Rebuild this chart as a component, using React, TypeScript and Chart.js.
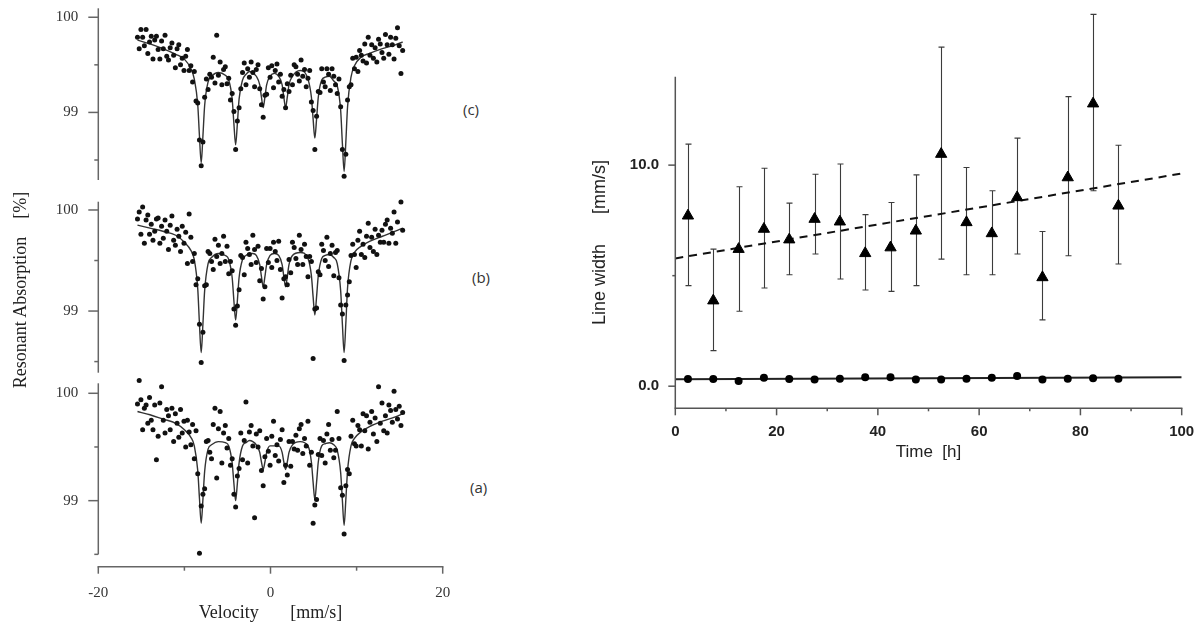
import React, { useEffect, useRef } from 'react';
import { Chart, registerables } from 'chart.js';

Chart.register(...registerables);

// ---------- Mössbauer spectra (left) ----------
const channelVelocity = [
  -15.45, -15.25, -15.05, -14.85, -14.65, -14.45, -14.25, -14.05, -13.85, -13.65,
  -13.45, -13.25, -13.05, -12.85, -12.65, -12.45, -12.25, -12.05, -11.85, -11.65,
  -11.45, -11.25, -11.05, -10.85, -10.65, -10.45, -10.25, -10.05, -9.85, -9.65,
  -9.45, -9.25, -9.05, -8.85, -8.65, -8.45, -8.25, -8.05, -7.85, -7.65,
  -7.45, -7.25, -7.05, -6.85, -6.65, -6.45, -6.25, -6.05, -5.85, -5.65,
  -5.45, -5.25, -5.05, -4.85, -4.65, -4.45, -4.25, -4.05, -3.85, -3.65,
  -3.45, -3.25, -3.05, -2.85, -2.65, -2.45, -2.25, -2.05, -1.85, -1.65,
  -1.45, -1.25, -1.05, -0.85, -0.65, -0.45, -0.25, -0.05, 0.15, 0.35,
  0.55, 0.75, 0.95, 1.15, 1.35, 1.55, 1.75, 1.95, 2.15, 2.35,
  2.55, 2.75, 2.95, 3.15, 3.35, 3.55, 3.75, 3.95, 4.15, 4.35,
  4.55, 4.75, 4.95, 5.15, 5.35, 5.55, 5.75, 5.95, 6.15, 6.35,
  6.55, 6.75, 6.95, 7.15, 7.35, 7.55, 7.75, 7.95, 8.15, 8.35,
  8.55, 8.75, 8.95, 9.15, 9.35, 9.55, 9.75, 9.95, 10.15, 10.35,
  10.55, 10.75, 10.95, 11.15, 11.35, 11.55, 11.75, 11.95, 12.15, 12.35,
  12.55, 12.75, 12.95, 13.15, 13.35, 13.55, 13.75, 13.95, 14.15, 14.35,
  14.55, 14.75, 14.95, 15.15, 15.35,
];

const absorptionC = [
  99.79, 99.67, 99.87, 99.79, 99.70, 99.87, 99.62, 99.74, 99.80, 99.56,
  99.76, 99.80, 99.66, 99.56, 99.75, 99.67, 99.81, 99.59, 99.55, 99.68,
  99.73, 99.60, 99.47, 99.67, 99.71, 99.50, 99.57, 99.44, 99.59, 99.66,
  99.44, 99.49, 99.32, 99.43, 99.12, 99.10, 98.71, 98.44, 98.69, 99.16,
  99.35, 99.24, 99.40, 99.37, 99.58, 99.31, 99.81, 99.39, 99.53, 99.29,
  99.45, 99.48, 99.30, 99.36, 99.13, 99.20, 99.01, 98.61, 98.91, 99.05,
  99.25, 99.42, 99.52, 99.29, 99.46, 99.37, 99.53, 99.42, 99.27, 99.45,
  99.50, 99.25, 99.08, 98.95, 99.18, 99.19, 99.47, 99.37, 99.49, 99.26,
  99.44, 99.51, 99.32, 99.40, 99.17, 99.24, 99.05, 99.30, 99.22, 99.39,
  99.29, 99.50, 99.48, 99.40, 99.33, 99.55, 99.38, 99.45, 99.27, 99.36,
  99.44, 99.11, 99.02, 98.61, 98.96, 99.22, 99.21, 99.46, 99.32, 99.27,
  99.46, 99.40, 99.23, 99.46, 99.38, 99.29, 99.20, 99.35, 99.06, 98.61,
  98.33, 98.56, 99.13, 99.27, 99.29, 99.57, 99.46, 99.58, 99.43, 99.65,
  99.60, 99.54, 99.72, 99.52, 99.79, 99.60, 99.71, 99.57, 99.68, 99.53,
  99.77, 99.72, 99.63, 99.57, 99.82, 99.71, 99.61, 99.79, 99.71, 99.56,
  99.78, 99.89, 99.70, 99.41, 99.65,
];

const absorptionB = [
  99.91, 99.98, 99.76, 100.03, 99.67, 99.90, 99.95, 99.76, 99.86, 99.70,
  99.79, 99.91, 99.92, 99.67, 99.84, 99.72, 99.90, 99.79, 99.61, 99.85,
  99.94, 99.70, 99.65, 99.81, 99.74, 99.59, 99.84, 99.67, 99.78, 99.47,
  99.96, 99.73, 99.49, 99.57, 99.26, 99.32, 98.87, 98.49, 98.79, 99.25,
  99.26, 99.59, 99.57, 99.49, 99.41, 99.71, 99.54, 99.65, 99.47, 99.57,
  99.74, 99.49, 99.64, 99.37, 99.49, 99.40, 99.02, 98.86, 99.05, 99.21,
  99.55, 99.53, 99.36, 99.68, 99.62, 99.56, 99.46, 99.75, 99.61, 99.48,
  99.64, 99.30, 99.42, 99.12, 99.24, 99.62, 99.48, 99.62, 99.43, 99.68,
  99.59, 99.50, 99.69, 99.41, 99.13, 99.32, 99.34, 99.26, 99.51, 99.38,
  99.68, 99.63, 99.52, 99.46, 99.75, 99.61, 99.46, 99.66, 99.54, 99.34,
  99.54, 99.49, 98.53, 99.02, 99.03, 99.39, 99.36, 99.66, 99.60, 99.50,
  99.73, 99.44, 99.57, 99.65, 99.35, 99.58, 99.60, 99.33, 99.06, 98.97,
  98.51, 99.06, 99.16, 99.29, 99.55, 99.66, 99.56, 99.43, 99.70, 99.79,
  99.56, 99.66, 99.53, 99.74, 99.87, 99.63, 99.73, 99.59, 99.81, 99.56,
  99.75, 99.68, 99.80, 99.68, 99.86, 99.90, 99.67, 99.82, 99.77, 99.98,
  99.67, 99.88, 100.14, 100.08, 99.80,
];

const absorptionA = [
  99.90, 100.12, 99.94, 99.66, 99.86, 99.89, 99.72, 99.96, 99.75, 99.66,
  99.89, 99.38, 99.60, 99.91, 100.06, 99.75, 99.63, 99.85, 99.79, 99.66,
  99.86, 99.55, 99.81, 99.72, 99.59, 99.85, 99.63, 99.74, 99.50, 99.75,
  99.64, 99.52, 99.71, 99.39, 99.65, 99.25, 98.51, 98.95, 99.06, 99.11,
  99.55, 99.56, 99.45, 99.39, 99.71, 99.86, 99.21, 99.67, 99.83, 99.35,
  99.63, 99.70, 99.49, 99.58, 99.33, 99.39, 99.06, 98.94, 99.23, 99.30,
  99.63, 99.38, 99.56, 99.92, 99.35, 99.64, 99.70, 99.51, 98.84, 99.62,
  99.50, 99.65, 99.28, 99.14, 99.41, 99.58, 99.46, 99.33, 99.60, 99.74,
  99.42, 99.52, 99.37, 99.57, 99.66, 99.17, 99.33, 99.24, 99.55, 99.32,
  99.55, 99.48, 99.61, 99.47, 99.67, 99.71, 99.44, 99.58, 99.51, 99.74,
  99.33, 99.45, 98.79, 98.96, 99.01, 99.43, 99.58, 99.42, 99.56, 99.35,
  99.62, 99.71, 99.47, 99.57, 99.40, 99.47, 99.83, 99.58, 99.12, 99.05,
  98.69, 99.14, 99.29, 99.25, 99.60, 99.75, 99.53, 99.51, 99.70, 99.66,
  99.51, 99.81, 99.65, 99.79, 99.48, 99.73, 99.83, 99.62, 99.77, 99.55,
  100.06, 99.72, 99.91, 99.65, 99.79, 99.63, 99.89, 99.84, 99.73, 100.02,
  99.85, 99.76, 99.88, 99.70, 99.82,
];

const fitVelocity = [
  -15.45, -14, -12.5, -11, -10, -9.25, -8.85, -8.45, -8.25, -8.05,
  -7.85, -7.65, -7.25, -6.85, -6.05, -5.25, -4.85, -4.45, -4.25, -4.05,
  -3.85, -3.65, -3.25, -2.85, -2.45, -2.05, -1.65, -1.25, -1.05, -0.85,
  -0.65, -0.45, -0.05, 0.45, 0.95, 1.35, 1.55, 1.75, 1.95, 2.15,
  2.55, 3.45, 4.35, 4.75, 4.95, 5.15, 5.35, 5.55, 5.95, 6.35,
  6.85, 7.35, 7.75, 8.15, 8.35, 8.55, 8.75, 8.95, 9.35, 9.75,
  10.5, 11.5, 13, 14.5, 15.35,
];

const fitC = [
  99.76, 99.72, 99.67, 99.61, 99.56, 99.46, 99.35, 99.08, 98.75, 98.47,
  98.75, 99.07, 99.32, 99.38, 99.42, 99.39, 99.34, 99.14, 98.88, 98.66,
  98.88, 99.14, 99.34, 99.40, 99.43, 99.41, 99.38, 99.29, 99.16, 99.05,
  99.16, 99.29, 99.38, 99.41, 99.38, 99.29, 99.16, 99.05, 99.16, 99.29,
  99.38, 99.44, 99.35, 99.16, 98.93, 98.73, 98.93, 99.16, 99.34, 99.37,
  99.38, 99.33, 99.28, 99.02, 98.67, 98.38, 98.69, 99.06, 99.37, 99.49,
  99.58, 99.62, 99.67, 99.71, 99.74,
];

const fitB = [
  99.85, 99.82, 99.79, 99.75, 99.68, 99.60, 99.51, 99.22, 98.87, 98.59,
  98.87, 99.20, 99.47, 99.53, 99.57, 99.55, 99.51, 99.33, 99.10, 98.91,
  99.10, 99.33, 99.51, 99.55, 99.57, 99.57, 99.55, 99.46, 99.34, 99.24,
  99.34, 99.46, 99.55, 99.57, 99.55, 99.46, 99.34, 99.24, 99.34, 99.46,
  99.55, 99.58, 99.52, 99.35, 99.14, 98.96, 99.14, 99.35, 99.52, 99.55,
  99.56, 99.53, 99.47, 99.20, 98.87, 98.59, 98.88, 99.23, 99.50, 99.58,
  99.64, 99.69, 99.74, 99.79, 99.82,
];

const fitA = [
  99.83, 99.80, 99.76, 99.72, 99.66, 99.59, 99.51, 99.28, 99.02, 98.79,
  99.01, 99.27, 99.48, 99.52, 99.55, 99.54, 99.51, 99.35, 99.16, 99.00,
  99.16, 99.35, 99.51, 99.54, 99.56, 99.55, 99.52, 99.45, 99.36, 99.29,
  99.36, 99.45, 99.51, 99.51, 99.51, 99.45, 99.36, 99.29, 99.36, 99.45,
  99.52, 99.55, 99.51, 99.36, 99.17, 99.01, 99.17, 99.36, 99.51, 99.53,
  99.54, 99.52, 99.47, 99.26, 99.00, 98.77, 99.01, 99.28, 99.51, 99.58,
  99.64, 99.69, 99.74, 99.78, 99.81,
];

const absorptionTicks = [99, 100];
const absorptionMinorTicks = [98.5, 99.5];
const velocityTicks = [-20, 0, 20];
const velocityMinorTicks = [-10, 10];

// ---------- Line width vs time (right) ----------
const timeHours = [2.5, 7.5, 12.5, 17.5, 22.5, 27.5, 32.5, 37.5, 42.5, 47.5, 52.5, 57.5, 62.5, 67.5, 72.5, 77.5, 82.5, 87.5];
const broadWidth = [7.71, 3.87, 6.20, 7.11, 6.63, 7.56, 7.44, 6.01, 6.27, 7.03, 10.50, 7.41, 6.91, 8.54, 4.92, 9.44, 12.78, 8.16];
const broadUpper = [10.95, 6.20, 9.02, 9.86, 8.28, 9.59, 10.05, 7.76, 8.31, 9.56, 15.34, 9.89, 8.84, 11.22, 7.00, 13.10, 16.82, 10.90];
const broadLower = [4.55, 1.61, 3.39, 4.44, 5.04, 5.98, 4.85, 4.35, 4.29, 4.55, 5.75, 5.04, 5.04, 5.98, 3.00, 5.90, 8.84, 5.53];
const narrowWidth = [0.32, 0.32, 0.24, 0.38, 0.32, 0.30, 0.34, 0.40, 0.40, 0.30, 0.30, 0.34, 0.38, 0.46, 0.30, 0.34, 0.36, 0.34];
const trendTime = [0, 100];
const broadTrend = [5.78, 9.62];
const narrowTrend = [0.31, 0.40];
const timeTicks = [0, 20, 40, 60, 80, 100];
const timeMinorTicks = [10, 30, 50, 70, 90];
const widthTicks = [0, 10];
const widthMinorTicks = [5];

const SERIF = '"Liberation Serif", "Times New Roman", serif';
const SANS = '"Liberation Sans", Arial, sans-serif';

type AxisSpec = {
  axis: 'x' | 'y';
  from: number;
  to: number;
  major: number[];
  minor: number[];
  majorLen: number;
  minorLen: number;
};

function makeAxesPlugin(specs: AxisSpec[], color: string, width: number) {
  return {
    id: 'drawnAxes',
    afterDatasetsDraw(chart: any) {
      const { ctx, chartArea } = chart;
      ctx.save();
      ctx.strokeStyle = color;
      ctx.lineWidth = width;
      const seg = (x1: number, y1: number, x2: number, y2: number) => {
        ctx.beginPath();
        ctx.moveTo(x1, y1);
        ctx.lineTo(x2, y2);
        ctx.stroke();
      };
      for (const s of specs) {
        if (s.axis === 'y') {
          const sc = chart.scales.y;
          const x = chartArea.left;
          seg(x, sc.getPixelForValue(s.from), x, sc.getPixelForValue(s.to));
          s.major.forEach((v) => { const p = sc.getPixelForValue(v); seg(x, p, x - s.majorLen, p); });
          s.minor.forEach((v) => { const p = sc.getPixelForValue(v); seg(x, p, x - s.minorLen, p); });
        } else {
          const sc = chart.scales.x;
          const y = chartArea.bottom;
          seg(sc.getPixelForValue(s.from) - width / 2, y, sc.getPixelForValue(s.to) + width / 2, y);
          s.major.forEach((v) => { const p = sc.getPixelForValue(v); seg(p, y, p, y + s.majorLen); });
          s.minor.forEach((v) => { const p = sc.getPixelForValue(v); seg(p, y, p, y + s.minorLen); });
        }
      }
      ctx.restore();
    },
  };
}

const errorBarPlugin = {
  id: 'errorBars',
  beforeDatasetsDraw(chart: any) {
    const { ctx } = chart;
    const xs = chart.scales.x;
    const ys = chart.scales.y;
    ctx.save();
    ctx.strokeStyle = '#3c3c3c';
    ctx.lineWidth = 1.1;
    timeHours.forEach((t, i) => {
      const x = Math.round(xs.getPixelForValue(t)) + 0.5;
      const yTop = ys.getPixelForValue(broadUpper[i]);
      const yBot = ys.getPixelForValue(broadLower[i]);
      ctx.beginPath();
      ctx.moveTo(x, yTop);
      ctx.lineTo(x, yBot);
      ctx.moveTo(x - 3, yTop);
      ctx.lineTo(x + 3, yTop);
      ctx.moveTo(x - 3, yBot);
      ctx.lineTo(x + 3, yBot);
      ctx.stroke();
    });
    ctx.restore();
  },
};

type SpectrumOpts = {
  counts: number[];
  fit: number[];
  yMin: number;
  yMax: number;
  axisTop: number;
  axisBottom: number;
  padTop: number;
  padBottom: number;
  padRight: number;
  showX: boolean;
};

function spectrumConfig(o: SpectrumOpts): any {
  const specs: AxisSpec[] = [
    { axis: 'y', from: o.axisTop, to: o.axisBottom, major: absorptionTicks, minor: absorptionMinorTicks, majorLen: 10, minorLen: 4 },
  ];
  if (o.showX) {
    specs.push({ axis: 'x', from: -20, to: 20, major: velocityTicks, minor: velocityMinorTicks, majorLen: 7, minorLen: 4 });
  }
  return {
    type: 'scatter',
    data: {
      datasets: [
        {
          data: channelVelocity.map((v, i) => ({ x: v, y: o.counts[i] })),
          pointRadius: 2.5,
          pointBackgroundColor: '#111',
          pointBorderWidth: 0,
          showLine: false,
          clip: false,
        },
        {
          data: fitVelocity.map((v, i) => ({ x: v, y: o.fit[i] })),
          showLine: true,
          pointRadius: 0,
          borderColor: '#333',
          borderWidth: 1.4,
          cubicInterpolationMode: 'monotone',
          clip: false,
        },
      ],
    },
    options: {
      animation: false,
      responsive: false,
      maintainAspectRatio: false,
      events: [],
      layout: { padding: { left: 0, top: o.padTop, right: o.padRight, bottom: o.padBottom } },
      plugins: { legend: { display: false }, tooltip: { enabled: false } },
      scales: {
        x: {
          type: 'linear',
          min: -20,
          max: 20,
          bounds: 'data',
          display: o.showX,
          grid: { display: false, drawTicks: false },
          border: { display: false },
          afterBuildTicks: (s: any) => { s.ticks = velocityTicks.map((v) => ({ value: v })); },
          afterFit: (s: any) => {
            s.height = o.showX ? 59.3 : 0;
            s.paddingLeft = 0;
            s.paddingRight = 0;
          },
          ticks: {
            autoSkip: false,
            maxRotation: 0,
            padding: 17,
            color: '#333',
            font: { family: SERIF, size: 15 },
          },
          title: {
            display: o.showX,
            text: 'Velocity       [mm/s]',
            color: '#222',
            font: { family: SERIF, size: 18 },
            padding: { top: 0, bottom: 2 },
          },
        },
        y: {
          type: 'linear',
          min: o.yMin,
          max: o.yMax,
          bounds: 'data',
          grid: { display: false, drawTicks: false },
          border: { display: false },
          afterBuildTicks: (s: any) => { s.ticks = absorptionTicks.map((v) => ({ value: v })); },
          afterFit: (s: any) => { s.width = 98.3; s.paddingTop = 0; s.paddingBottom = 0; },
          ticks: {
            padding: 20,
            color: '#333',
            font: { family: SERIF, size: 15 },
            callback: (v: any) => String(v),
          },
        },
      },
    },
    plugins: [makeAxesPlugin(specs, '#666', 1.5)],
  };
}

function lineWidthConfig(): any {
  const specs: AxisSpec[] = [
    { axis: 'y', from: -1, to: 14, major: widthTicks, minor: widthMinorTicks, majorLen: 7, minorLen: 3 },
    { axis: 'x', from: 0, to: 100, major: timeTicks, minor: timeMinorTicks, majorLen: 7, minorLen: 3 },
  ];
  return {
    type: 'scatter',
    data: {
      datasets: [
        {
          data: timeHours.map((t, i) => ({ x: t, y: broadWidth[i] })),
          pointStyle: 'triangle',
          pointRadius: 6.5,
          pointBackgroundColor: '#000',
          pointBorderColor: '#000',
          pointBorderWidth: 1,
          showLine: false,
          clip: false,
        },
        {
          data: timeHours.map((t, i) => ({ x: t, y: narrowWidth[i] })),
          pointStyle: 'circle',
          pointRadius: 4,
          pointBackgroundColor: '#000',
          pointBorderColor: '#000',
          pointBorderWidth: 0,
          showLine: false,
          clip: false,
        },
        {
          data: trendTime.map((t, i) => ({ x: t, y: broadTrend[i] })),
          showLine: true,
          pointRadius: 0,
          borderColor: '#111',
          borderWidth: 2,
          borderDash: [8, 6],
        },
        {
          data: trendTime.map((t, i) => ({ x: t, y: narrowTrend[i] })),
          showLine: true,
          pointRadius: 0,
          borderColor: '#222',
          borderWidth: 2,
        },
      ],
    },
    options: {
      animation: false,
      responsive: false,
      maintainAspectRatio: false,
      events: [],
      layout: { padding: { left: 0, top: 76.7, right: 20.3, bottom: 0 } },
      plugins: { legend: { display: false }, tooltip: { enabled: false } },
      scales: {
        x: {
          type: 'linear',
          min: 0,
          max: 100,
          bounds: 'data',
          grid: { display: false, drawTicks: false },
          border: { display: false },
          afterBuildTicks: (s: any) => { s.ticks = timeTicks.map((v) => ({ value: v })); },
          afterFit: (s: any) => { s.height = 61.7; s.paddingLeft = 0; s.paddingRight = 0; },
          ticks: {
            autoSkip: false,
            maxRotation: 0,
            padding: 15,
            color: '#222',
            font: { family: SANS, size: 15, weight: 'bold' },
          },
          title: {
            display: true,
            text: 'Time  [h]',
            color: '#222',
            font: { family: SANS, size: 17 },
            padding: { top: 0, bottom: 7.8 },
          },
        },
        y: {
          type: 'linear',
          min: -1,
          max: 14,
          bounds: 'data',
          grid: { display: false, drawTicks: false },
          border: { display: false },
          afterBuildTicks: (s: any) => { s.ticks = widthTicks.map((v) => ({ value: v })); },
          afterFit: (s: any) => { s.width = 95.3; s.paddingTop = 0; s.paddingBottom = 0; },
          ticks: {
            padding: 16.3,
            color: '#222',
            font: { family: SANS, size: 15, weight: 'bold' },
            callback: (v: any) => Number(v).toFixed(1),
          },
          title: {
            display: true,
            text: 'Line width      [mm/s]',
            color: '#222',
            font: { family: SANS, size: 18 },
            padding: { top: 9.2, bottom: 0 },
          },
        },
      },
    },
    plugins: [makeAxesPlugin(specs, '#555', 1.5), errorBarPlugin],
  };
}

function ChartCanvas(props: { left: number; top: number; width: number; height: number; make: () => any }) {
  const ref = useRef<HTMLCanvasElement>(null);
  useEffect(() => {
    const chart = new Chart(ref.current as HTMLCanvasElement, props.make());
    return () => chart.destroy();
  }, []);
  return (
    <canvas
      ref={ref}
      width={props.width}
      height={props.height}
      style={{ position: 'absolute', left: props.left, top: props.top, width: props.width, height: props.height }}
    />
  );
}

const panelLabelStyle: React.CSSProperties = {
  position: 'absolute',
  fontFamily: '"Open Sans", "Noto Sans", sans-serif',
  fontSize: 15,
  lineHeight: '15px',
  color: '#333',
  whiteSpace: 'pre',
};

export default function App() {
  return (
    <div style={{ position: 'fixed', left: 0, top: 0, width: 1202, height: 626, background: '#fff', overflow: 'hidden' }}>
      <ChartCanvas
        left={0}
        top={0}
        width={450}
        height={190}
        make={() => spectrumConfig({
          counts: absorptionC, fit: fitC, yMin: 98.29, yMax: 100.094, axisTop: 100.094, axisBottom: 98.29,
          padTop: 8.3, padBottom: 10, padRight: 7.3, showX: false,
        })}
      />
      <ChartCanvas
        left={0}
        top={190}
        width={450}
        height={195}
        make={() => spectrumConfig({
          counts: absorptionB, fit: fitB, yMin: 98.39, yMax: 100.082, axisTop: 100.082, axisBottom: 98.39,
          padTop: 11.7, padBottom: 12.3, padRight: 7.3, showX: false,
        })}
      />
      <ChartCanvas
        left={0}
        top={370}
        width={450}
        height={256}
        make={() => spectrumConfig({
          counts: absorptionA, fit: fitA, yMin: 98.385, yMax: 100.093, axisTop: 100.093, axisBottom: 98.5,
          padTop: 13.3, padBottom: 0, padRight: 7.3, showX: true,
        })}
      />
      <ChartCanvas left={580} top={0} width={622} height={470} make={lineWidthConfig} />

      <div style={{ ...panelLabelStyle, left: 463, top: 102 }}>(c)</div>
      <div style={{ ...panelLabelStyle, left: 472, top: 270 }}>(b)</div>
      <div style={{ ...panelLabelStyle, left: 470, top: 480 }}>(a)</div>
      <div
        style={{
          position: 'absolute',
          left: 20 - 130,
          top: 290 - 12,
          width: 260,
          height: 24,
          lineHeight: '24px',
          textAlign: 'center',
          transform: 'rotate(-90deg)',
          fontFamily: SERIF,
          fontSize: 18,
          color: '#222',
          whiteSpace: 'pre',
        }}
      >
        {'Resonant Absorption    [%]'}
      </div>
    </div>
  );
}
